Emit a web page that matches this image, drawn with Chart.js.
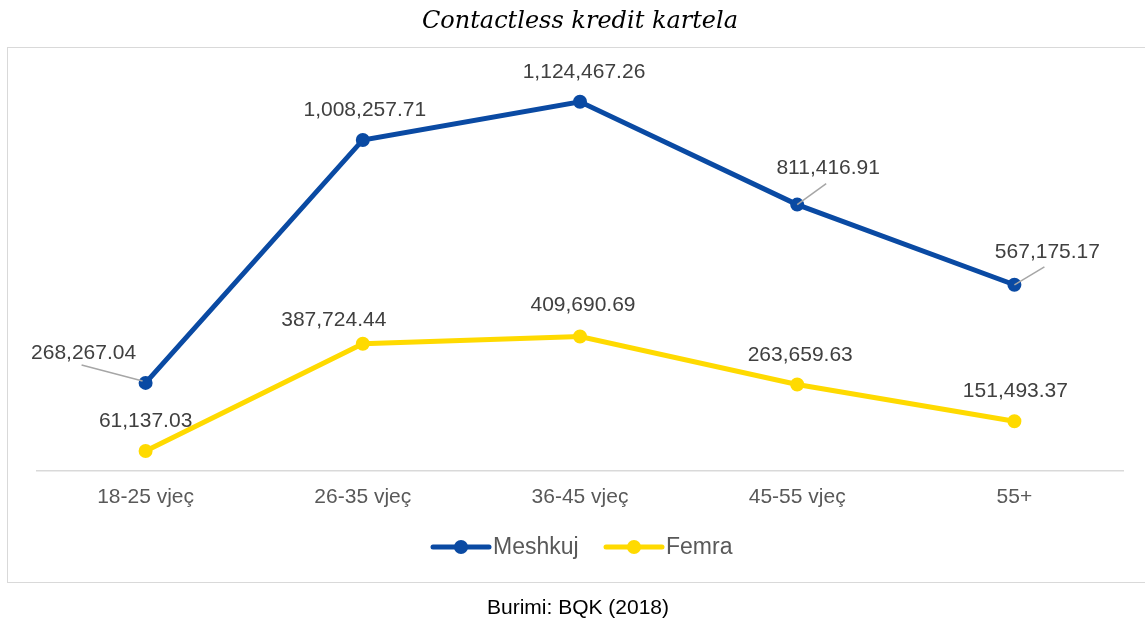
<!DOCTYPE html>
<html>
<head>
<meta charset="utf-8">
<script src="https://cdn.jsdelivr.net/npm/chart.js@4.4.1/dist/chart.umd.min.js"></script>
<style>
  html, body { margin: 0; padding: 0; background: #ffffff; }
  body { width: 1145px; height: 621px; position: relative; overflow: hidden; }
  #frame { position: absolute; left: 7px; top: 47px; width: 1140px; height: 536px; border: 1px solid #d9d9d9; box-sizing: border-box; }
  #wrap { position: absolute; left: 0; top: 0; width: 1145px; height: 621px; }
  #title { position: absolute; left: 0; width: 1160px; top: 5px; text-align: center;
           font-family: "DejaVu Serif", "Liberation Serif", serif; font-style: italic; font-size: 24px; line-height: 30px; color: #000; }
  #source { position: absolute; left: 0; width: 1156px; top: 595px; text-align: center;
            font-family: "Liberation Sans", Arial, sans-serif; font-size: 21px; line-height: 24px; color: #000; }
</style>
</head>
<body>
<div id="frame"></div>
<div id="wrap"><canvas id="c" width="1145" height="621"></canvas></div>
<div id="title">Contactless kredit kartela</div>
<div id="source">Burimi: BQK (2018)</div>
<script>
// ---- data ----
const categories = ["18-25 vjeç", "26-35 vjeç", "36-45 vjeç", "45-55 vjeç", "55+"];
const seriesNames = ["Meshkuj", "Femra"];
const meshkuj = [268267.04, 1008257.71, 1124467.26, 811416.91, 567175.17];
const femra = [61137.03, 387724.44, 409690.69, 263659.63, 151493.37];

// ---- label placement (style, offsets from each point in px) ----
const labelOffsets = [
  [[-62, -30], [2, -30], [4, -30], [31, -36], [33, -33]],
  [[0, -30], [-29, -23], [3, -31], [3, -29], [1, -30]]
];
const leaderLines = [
  [[[-64, -18], [-3, -2]], null, null, [[29, -21], [0, 0]], [[30, -18], [0, 0]]],
  [null, null, null, null, null]
];

const fmt = v => v.toLocaleString('en-US', { minimumFractionDigits: 2, maximumFractionDigits: 2 });
const FONT = '"Liberation Sans", Arial, sans-serif';

const labelPlugin = {
  id: 'labels',
  afterDatasetsDraw(chart) {
    const ctx = chart.ctx;
    ctx.save();
    chart.data.datasets.forEach((ds, di) => {
      const meta = chart.getDatasetMeta(di);
      meta.data.forEach((pt, i) => {
        const ll = leaderLines[di][i];
        if (ll) {
          ctx.strokeStyle = '#a6a6a6';
          ctx.lineWidth = 1.5;
          ctx.beginPath();
          ctx.moveTo(pt.x + ll[0][0], pt.y + ll[0][1]);
          ctx.lineTo(pt.x + ll[1][0], pt.y + ll[1][1]);
          ctx.stroke();
        }
      });
    });
    ctx.font = '21px ' + FONT;
    ctx.fillStyle = '#404040';
    ctx.textAlign = 'center';
    ctx.textBaseline = 'middle';
    chart.data.datasets.forEach((ds, di) => {
      const meta = chart.getDatasetMeta(di);
      meta.data.forEach((pt, i) => {
        const o = labelOffsets[di][i];
        ctx.fillText(fmt(ds.data[i]), pt.x + o[0], pt.y + o[1]);
      });
    });
    ctx.restore();
  }
};

const legendPlugin = {
  id: 'customLegend',
  afterDraw(chart) {
    const ctx = chart.ctx;
    ctx.save();
    const y = 547;
    const starts = [433, 606];
    ctx.font = '23px ' + FONT;
    ctx.textBaseline = 'middle';
    ctx.textAlign = 'left';
    chart.data.datasets.forEach((ds, di) => {
      const x0 = starts[di];
      ctx.strokeStyle = ds.borderColor;
      ctx.lineWidth = 5;
      ctx.lineCap = 'round';
      ctx.beginPath();
      ctx.moveTo(x0, y);
      ctx.lineTo(x0 + 56, y);
      ctx.stroke();
      ctx.fillStyle = ds.borderColor;
      ctx.beginPath();
      ctx.arc(x0 + 28, y, 7, 0, Math.PI * 2);
      ctx.fill();
      ctx.fillStyle = '#595959';
      ctx.fillText(ds.label, x0 + 60, y + 1);
    });
    ctx.restore();
  }
};

const colors = ['#0A4AA3', '#FFDA00'];

new Chart(document.getElementById('c'), {
  type: 'line',
  data: {
    labels: categories,
    datasets: [meshkuj, femra].map((d, i) => ({
      label: seriesNames[i],
      data: d,
      borderColor: colors[i],
      backgroundColor: colors[i],
      pointBackgroundColor: colors[i],
      pointBorderColor: colors[i],
      borderWidth: 5,
      pointRadius: 6,
      pointBorderWidth: 2,
      tension: 0,
      fill: false
    }))
  },
  options: {
    responsive: false,
    animation: false,
    layout: { padding: { left: 37, right: 22, top: 77, bottom: 114 } },
    plugins: { legend: { display: false }, title: { display: false }, tooltip: { enabled: false } },
    scales: {
      x: {
        offset: true,
        grid: { display: false, drawTicks: false },
        border: { display: true, color: '#d9d9d9', width: 1.5 },
        ticks: { color: '#595959', font: { family: FONT, size: 21 }, padding: 14 },
        afterFit: s => { s.height = 36; }
      },
      y: { display: false, min: 0, max: 1200000 }
    }
  },
  plugins: [labelPlugin, legendPlugin]
});
</script>
</body>
</html>
